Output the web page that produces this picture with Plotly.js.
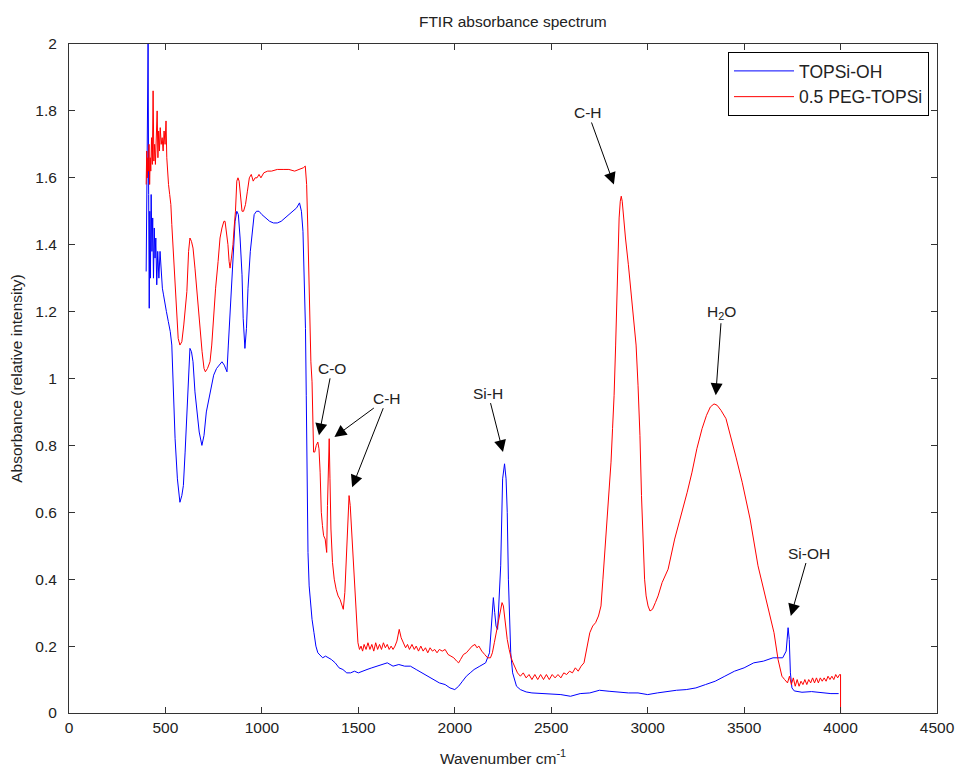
<!DOCTYPE html>
<html>
<head>
<meta charset="utf-8">
<script src="https://cdn.plot.ly/plotly-3.0.1.min.js"></script>
<style>
html,body{margin:0;padding:0;background:#fff;}
#chart{width:955px;height:770px;}
</style>
</head>
<body>
<div id="chart"></div>
<script>
// TOPSi-OH (blue) spectrum: wavenumber (cm-1) and absorbance
const topsiX = [400,404,408,410,413,416,419,422,426,430,434,438,442,446,450,455,460,466,472,478,484,490,497,505,515,525,533,540,550,562,575,585,593,602,610,618,627,635,643,653,663,675,689,700,712,722,731,740,750,765,780,793,805,819,826,835,843,852,861,870,878,887,897,903,912,920,928,940,950,960,972,985,1000,1020,1040,1060,1080,1100,1120,1140,1160,1180,1195,1205,1213,1220,1226,1230,1234,1239,1245,1252,1260,1270,1280,1290,1300,1315,1330,1345,1360,1380,1400,1420,1440,1460,1480,1500,1520,1545,1570,1600,1630,1650,1680,1710,1740,1770,1800,1830,1860,1890,1920,1950,1975,2000,2020,2040,2060,2080,2100,2130,2160,2180,2192,2200,2207,2214,2222,2230,2238,2248,2258,2266,2272,2278,2290,2300,2320,2340,2370,2400,2450,2500,2550,2600,2650,2700,2750,2800,2850,2900,2950,3000,3050,3100,3150,3200,3250,3300,3350,3400,3450,3500,3550,3600,3650,3700,3718,3728,3734,3740,3748,3760,3800,3850,3900,3950,3990];
const topsiY = [1.32,1.62,1.95,2.0,1.55,1.21,1.50,1.30,1.55,1.38,1.48,1.30,1.45,1.36,1.42,1.28,1.38,1.30,1.38,1.30,1.27,1.25,1.22,1.20,1.17,1.14,1.10,0.97,0.82,0.70,0.63,0.65,0.68,0.78,0.88,1.02,1.09,1.08,1.05,0.96,0.90,0.84,0.80,0.83,0.90,0.93,0.95,0.98,1.01,1.03,1.04,1.05,1.04,1.02,1.10,1.20,1.29,1.40,1.47,1.50,1.49,1.42,1.31,1.18,1.09,1.15,1.27,1.38,1.44,1.49,1.50,1.50,1.49,1.48,1.47,1.465,1.465,1.47,1.48,1.49,1.50,1.51,1.525,1.50,1.44,1.30,1.15,0.95,0.72,0.48,0.38,0.32,0.28,0.24,0.20,0.18,0.175,0.165,0.17,0.165,0.16,0.15,0.135,0.13,0.12,0.12,0.125,0.12,0.125,0.13,0.135,0.14,0.145,0.15,0.14,0.145,0.14,0.14,0.13,0.12,0.11,0.10,0.09,0.085,0.075,0.07,0.08,0.095,0.11,0.12,0.13,0.14,0.15,0.18,0.28,0.345,0.30,0.26,0.25,0.33,0.44,0.70,0.745,0.70,0.60,0.40,0.18,0.12,0.08,0.07,0.063,0.06,0.058,0.055,0.055,0.05,0.058,0.06,0.068,0.065,0.062,0.06,0.06,0.055,0.06,0.065,0.068,0.07,0.075,0.085,0.095,0.11,0.125,0.135,0.15,0.155,0.165,0.165,0.185,0.255,0.22,0.12,0.075,0.066,0.062,0.064,0.06,0.058,0.058];

// 0.5 PEG-TOPSi (red) spectrum
const pegX = [400,403,406,409,412,415,418,421,424,428,432,436,440,444,448,452,457,461,465,469,473,478,483,488,493,498,503,507,511,516,522,528,533,540,549,558,566,575,585,595,605,611,620,627,635,643,653,663,672,680,690,700,707,718,731,740,747,760,773,783,793,803,809,816,824,830,835,842,850,856,863,870,876,882,890,897,905,915,925,935,945,955,965,975,985,995,1010,1030,1050,1080,1110,1140,1170,1195,1215,1225,1232,1238,1243,1248,1254,1260,1264,1268,1274,1282,1290,1296,1302,1308,1314,1320,1328,1336,1340,1345,1349,1353,1358,1366,1375,1385,1395,1405,1415,1422,1430,1438,1445,1452,1458,1464,1472,1480,1490,1498,1506,1514,1522,1530,1540,1550,1560,1570,1580,1590,1600,1610,1620,1630,1640,1650,1660,1670,1680,1690,1700,1712,1722,1732,1745,1755,1765,1778,1790,1800,1812,1824,1836,1848,1860,1872,1884,1896,1908,1920,1935,1950,1965,1980,1995,2010,2020,2030,2045,2060,2075,2090,2105,2115,2125,2140,2155,2170,2185,2195,2205,2215,2225,2235,2245,2252,2262,2272,2282,2292,2302,2312,2325,2340,2355,2370,2385,2400,2415,2430,2445,2460,2475,2490,2505,2520,2535,2550,2565,2580,2595,2610,2625,2640,2655,2670,2685,2700,2715,2730,2745,2758,2768,2780,2790,2800,2810,2818,2826,2834,2841,2847,2852,2858,2863,2868,2875,2885,2900,2914,2928,2940,2950,2960,2968,2976,2984,2992,3002,3012,3025,3040,3054,3075,3106,3140,3178,3205,3230,3255,3282,3305,3325,3344,3360,3380,3406,3430,3458,3490,3531,3572,3600,3624,3655,3676,3696,3710,3725,3735,3745,3755,3765,3775,3785,3795,3805,3815,3825,3835,3845,3855,3865,3875,3885,3895,3905,3915,3925,3935,3945,3955,3965,3975,3985,3995,4000,4000];
const pegY = [1.58,1.68,1.60,1.66,1.62,1.70,1.58,1.66,1.62,1.72,1.64,1.86,1.65,1.70,1.64,1.72,1.80,1.66,1.74,1.68,1.75,1.70,1.72,1.68,1.74,1.70,1.77,1.66,1.60,1.58,1.55,1.52,1.46,1.38,1.29,1.17,1.12,1.10,1.11,1.16,1.22,1.26,1.38,1.42,1.41,1.39,1.33,1.26,1.19,1.14,1.08,1.03,1.02,1.03,1.05,1.10,1.17,1.27,1.35,1.42,1.45,1.47,1.47,1.44,1.40,1.35,1.33,1.36,1.40,1.45,1.50,1.59,1.60,1.59,1.53,1.50,1.50,1.52,1.56,1.60,1.61,1.59,1.60,1.60,1.61,1.60,1.615,1.62,1.62,1.625,1.625,1.625,1.62,1.625,1.63,1.635,1.58,1.45,1.32,1.15,1.05,0.99,0.85,0.78,0.78,0.80,0.81,0.79,0.72,0.60,0.56,0.53,0.52,0.48,0.62,0.80,0.82,0.70,0.55,0.45,0.40,0.37,0.35,0.34,0.32,0.31,0.36,0.46,0.58,0.65,0.62,0.56,0.47,0.38,0.28,0.21,0.19,0.20,0.185,0.205,0.19,0.21,0.19,0.205,0.185,0.21,0.19,0.205,0.19,0.21,0.195,0.205,0.19,0.20,0.19,0.20,0.215,0.25,0.225,0.21,0.195,0.205,0.19,0.205,0.19,0.20,0.185,0.20,0.185,0.195,0.18,0.195,0.185,0.19,0.18,0.19,0.185,0.19,0.175,0.17,0.165,0.155,0.15,0.16,0.175,0.18,0.19,0.20,0.205,0.195,0.20,0.185,0.175,0.165,0.165,0.18,0.21,0.24,0.27,0.31,0.33,0.32,0.27,0.22,0.19,0.165,0.15,0.135,0.12,0.11,0.12,0.105,0.115,0.10,0.115,0.10,0.115,0.10,0.115,0.10,0.115,0.105,0.115,0.105,0.12,0.115,0.125,0.12,0.135,0.125,0.14,0.15,0.20,0.24,0.26,0.27,0.29,0.32,0.40,0.50,0.58,0.68,0.75,0.85,0.95,1.10,1.26,1.40,1.48,1.53,1.545,1.53,1.48,1.42,1.34,1.26,1.17,1.10,0.98,0.83,0.65,0.50,0.40,0.35,0.32,0.305,0.31,0.33,0.35,0.39,0.43,0.52,0.60,0.66,0.72,0.79,0.85,0.89,0.915,0.924,0.92,0.905,0.88,0.83,0.765,0.69,0.58,0.44,0.37,0.31,0.24,0.16,0.11,0.10,0.09,0.11,0.085,0.105,0.08,0.10,0.08,0.095,0.085,0.10,0.085,0.10,0.09,0.105,0.09,0.105,0.09,0.105,0.095,0.105,0.095,0.11,0.10,0.11,0.10,0.115,0.105,0.115,0.115,0.0];

// Annotation labels
const labelText = ['C-O','C-H','C-H','Si-H','C-H','H<sub>2</sub>O','Si-OH'];
const labelX = [1296,1376,1468,2250,2825,3353,3742];
const labelY = [0.83,0.825,0.675,0.78,1.58,0.95,0.29];
const labelShow = [true,true,false,true,true,true,true];
const labelAx = [13,53,35,-15,-26,6,18];
const labelAy = [-67,-39,-89,-59,-72,-83,-63];

const traces = [
  {x: topsiX, y: topsiY, type: 'scatter', mode: 'lines', name: 'TOPSi-OH',
   line: {color: 'rgb(0,0,255)', width: 1}},
  {x: pegX, y: pegY, type: 'scatter', mode: 'lines', name: '0.5 PEG-TOPSi',
   line: {color: 'rgb(255,0,0)', width: 1}}
];

const fontFam = 'Liberation Sans, Arial, sans-serif';
const fs = 15.5;
const annotations = labelText.map((t, i) => ({
  x: labelX[i], y: labelY[i], xref: 'x', yref: 'y',
  text: t, showarrow: true, ax: labelAx[i], ay: labelAy[i],
  arrowhead: 2, arrowsize: 2.4, arrowwidth: 1, arrowcolor: '#000',
  font: {family: fontFam, size: fs, color: labelShow[i] ? '#222' : 'rgba(0,0,0,0)'}
}));

const layout = {
  width: 955, height: 770,
  margin: {l: 69, r: 18, t: 44, b: 57},
  paper_bgcolor: '#fff', plot_bgcolor: '#fff',
  font: {family: fontFam, size: fs, color: '#222'},
  title: {text: 'FTIR absorbance spectrum', x: 0.537, xanchor: 'center', y: 0.972, yanchor: 'middle',
          font: {family: fontFam, size: fs, color: '#222'}},
  xaxis: {
    range: [0, 4500], dtick: 500, tick0: 0, showgrid: false, zeroline: false,
    ticks: 'inside', ticklen: 6, tickcolor: '#333', showline: true, linecolor: '#333', linewidth: 1,
    mirror: 'ticks',
    title: {text: 'Wavenumber cm<sup>-1</sup>', font: {family: fontFam, size: fs}, standoff: 18},
    tickfont: {family: fontFam, size: fs, color: '#222'}
  },
  yaxis: {
    range: [0, 2], dtick: 0.2, tick0: 0, showgrid: false, zeroline: false,
    ticks: 'inside', ticklen: 6, tickcolor: '#333', showline: true, linecolor: '#333', linewidth: 1,
    mirror: 'ticks', ticklabelstandoff: 8,
    title: {text: 'Absorbance (relative intensity)', font: {family: fontFam, size: fs}, standoff: 8},
    tickfont: {family: fontFam, size: fs, color: '#222'}
  },
  legend: {
    x: 0.9908, y: 0.988, xanchor: 'right', yanchor: 'top',
    bgcolor: '#fff', bordercolor: '#000', borderwidth: 1,
    itemwidth: 60, tracegroupgap: 0,
    font: {family: fontFam, size: 17.5, color: '#222'}
  },
  showlegend: true,
  annotations: annotations
};

Plotly.newPlot('chart', traces, layout, {displayModeBar: false, staticPlot: true});
</script>
</body>
</html>
